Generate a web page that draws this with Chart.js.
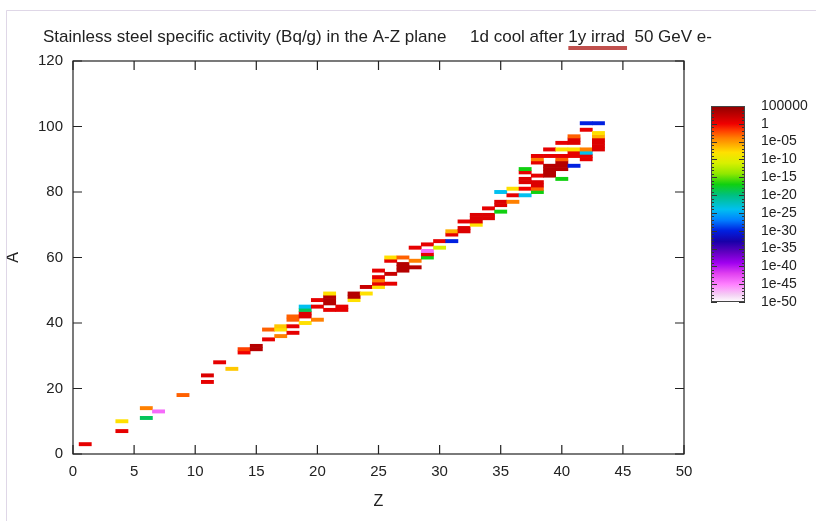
<!DOCTYPE html>
<html>
<head>
<meta charset="utf-8">
<script src="https://cdn.jsdelivr.net/npm/chart.js@4.4.0/dist/chart.umd.min.js"></script>
<style>
  html, body { margin: 0; padding: 0; background: #fff; }
  #wrap { position: relative; width: 816px; height: 521px; }
  #main { position: absolute; left: 0; top: 0; }
  #cbar { position: absolute; left: 700px; top: 76px; }
</style>
</head>
<body>
<div id="wrap">
  <canvas id="main" width="816" height="521"></canvas>
  <canvas id="cbar" width="116" height="256"></canvas>
</div>
<script>
// nuclides seen in the picture: Z, A and log10 of the activity (Bq/g)
const cellZ = [1, 4, 4, 6, 6, 7, 9, 11, 11, 12, 13, 14, 14, 15, 15, 16, 16, 17, 17, 17,
  18, 18, 18, 18, 19, 19, 19, 19, 19, 20, 20, 20, 21, 21, 21, 21, 21, 22, 22,
  23, 23, 23, 24, 24, 25, 25, 25, 25, 25, 26, 26, 26, 26, 27, 27, 27, 27,
  28, 28, 28, 29, 29, 29, 29, 30, 30, 31, 31, 31, 32, 32, 32, 33, 33, 33, 33,
  34, 34, 34, 35, 35, 35, 35, 36, 36, 36, 37, 37, 37, 37, 37, 37,
  38, 38, 38, 38, 38, 38, 38, 38, 39, 39, 39, 39, 39, 39,
  40, 40, 40, 40, 40, 40, 40, 40, 41, 41, 41, 41, 41, 41, 41,
  42, 42, 42, 42, 42, 42, 43, 43, 43, 43, 43, 43, 43];
const cellA = [3, 7, 10, 11, 14, 13, 18, 22, 24, 28, 26, 31, 32, 32, 33, 35, 38, 36, 38, 39,
  37, 39, 41, 42, 40, 42, 43, 44, 45, 41, 45, 47, 44, 46, 47, 48, 49, 44, 45,
  47, 48, 49, 49, 51, 51, 52, 53, 54, 56, 52, 55, 59, 60, 56, 57, 58, 60,
  57, 59, 63, 60, 61, 62, 64, 63, 65, 65, 67, 68, 68, 69, 71, 70, 71, 72, 73,
  72, 73, 75, 74, 76, 77, 80, 77, 79, 81, 79, 81, 83, 84, 86, 87,
  80, 81, 82, 83, 85, 89, 90, 91, 85, 86, 87, 88, 91, 93,
  84, 87, 88, 89, 90, 91, 93, 95, 88, 91, 92, 93, 95, 96, 97,
  90, 91, 92, 93, 99, 101, 93, 94, 95, 96, 97, 98, 101];
const cellLog = [0.5, 0.5, -8, -19, -4, -44, -3, 0.5, 1, 0.5, -7, 0, -2, 3, 3, 0.5, -3, -4, -8, -7,
  0.5, 0.5, -3, -3, -8, 1, 1, -19, -24, -4, 0.5, 0.5, 0.5, 3, 3, 3, -8, 0.5, 0.5,
  -8, 3, 3, -8, 2, -8, 0.5, -4, 0.5, 0.5, 0.5, 2, 0.5, -8, 3, 3, 3, -3,
  3, -4, 0.5, -17, 0.5, -44, 0.5, -11, 0.5, -30, 0.5, -6, 1, 1, 0.5, -8, 1, 1, 1,
  1, 1, 0.5, -17, 1, 1, -24, -4, 0.5, -8, -24, 0, 1, 1, 0.5, -17,
  -17, -3, 1, 1, 0.5, 0.5, -4, 0.5, 3, 3, 3, 3, 0.5, 0.5,
  -17, 3, 3, 3, -3, 0.5, -8, 0.5, -30, 0.5, 0.5, -8, 1, 1, -3,
  0.5, 0.5, -24, -4, 0.5, -30, 1, 1, 1, 1, -6, -8, -30];

// colour bar: log10 range and the labelled steps
const cbMin = -50;
const cbMax = 5;
const cbStep = 5;

// palette stops (log10 value -> colour)
const palLog = [5, 2, 0, -2, -4, -6, -8, -11, -14, -17, -20, -24, -27, -30, -33, -36, -39, -42, -45, -48, -50];
const palColor = ['#8e0000', '#c80000', '#f00000', '#ff4000', '#ff8000', '#ffb000', '#ffe000', '#d8f000',
  '#90e800', '#10d010', '#00c080', '#00c0f0', '#0080ff', '#0020e0', '#1800a8', '#6000c0', '#a000f0',
  '#e040f0', '#ff80ff', '#f4d0f4', '#ffffff'];

const titleText = 'Stainless steel specific activity (Bq/g) in the A-Z plane     1d cool after 1y irrad  50 GeV e-';
const markedText = '1y irrad';
const fontFam = '"Liberation Sans", Arial, Helvetica, sans-serif';

function hexRgb(h) {
  return [parseInt(h.substr(1, 2), 16), parseInt(h.substr(3, 2), 16), parseInt(h.substr(5, 2), 16)];
}

function activityColor(v) {
  if (v >= palLog[0]) return palColor[0];
  for (let i = 1; i < palLog.length; i++) {
    if (v >= palLog[i]) {
      const t = (palLog[i - 1] - v) / (palLog[i - 1] - palLog[i]);
      const a = hexRgb(palColor[i - 1]), b = hexRgb(palColor[i]);
      const c = a.map((x, k) => Math.round(x + (b[k] - x) * t));
      return 'rgb(' + c.join(',') + ')';
    }
  }
  return palColor[palColor.length - 1];
}

const cells = cellZ.map((z, i) => ({ x: z, y: [cellA[i] - 0.5, cellA[i] + 0.5] }));

// title, underline, box and inward ticks like gnuplot
const framePlugin = {
  id: 'frame',
  afterDraw(chart) {
    const ctx = chart.ctx;
    const a = chart.chartArea;
    const xs = chart.scales.x, ys = chart.scales.y;
    ctx.save();
    // faint page frame
    ctx.strokeStyle = 'rgba(215,205,225,0.8)';
    ctx.lineWidth = 1;
    ctx.beginPath();
    ctx.moveTo(6.5, 521); ctx.lineTo(6.5, 10.5); ctx.lineTo(816, 10.5);
    ctx.stroke();

    ctx.font = '17px ' + fontFam;
    ctx.fillStyle = '#222';
    ctx.textBaseline = 'middle';
    ctx.textAlign = 'left';
    const tx = 43, ty = 37;
    ctx.fillText(titleText, tx, ty);
    const idx = titleText.indexOf(markedText);
    const u0 = tx + ctx.measureText(titleText.slice(0, idx)).width;
    const u1 = u0 + ctx.measureText(markedText).width;
    ctx.fillStyle = '#c0504d';
    ctx.fillRect(u0, 46, u1 - u0 + 2, 4);

    ctx.strokeStyle = '#222';
    ctx.lineWidth = 1.2;
    ctx.strokeRect(a.left, a.top, a.right - a.left, a.bottom - a.top);
    ctx.beginPath();
    xs.ticks.forEach(t => {
      const x = xs.getPixelForValue(t.value);
      ctx.moveTo(x, a.bottom); ctx.lineTo(x, a.bottom - 9);
      ctx.moveTo(x, a.top); ctx.lineTo(x, a.top + 9);
    });
    ys.ticks.forEach(t => {
      const y = ys.getPixelForValue(t.value);
      ctx.moveTo(a.left, y); ctx.lineTo(a.left + 9, y);
      ctx.moveTo(a.right, y); ctx.lineTo(a.right - 9, y);
    });
    ctx.stroke();
    ctx.restore();
  }
};

new Chart(document.getElementById('main'), {
  type: 'bar',
  data: {
    datasets: [{
      data: cells,
      backgroundColor: ctx => activityColor(cellLog[ctx.dataIndex]),
      borderWidth: 0,
      barPercentage: 1,
      categoryPercentage: 1
    }]
  },
  options: {
    responsive: false,
    animation: false,
    layout: { padding: { left: 0, top: 61, right: 132, bottom: 0 } },
    plugins: {
      legend: { display: false },
      tooltip: { enabled: false },
      title: { display: false }
    },
    scales: {
      x: {
        type: 'linear',
        min: 0,
        max: 50,
        offset: false,
        grid: { display: false, drawTicks: false, offset: false },
        border: { display: false },
        ticks: { stepSize: 5, padding: 9, color: '#222', font: { family: fontFam, size: 15 } },
        title: { display: true, text: 'Z', color: '#222', font: { family: fontFam, size: 16 }, padding: { top: 0, bottom: 10 } },
        afterFit: s => { s.height = 67; }
      },
      y: {
        min: 0,
        max: 120,
        grid: { display: false, drawTicks: false },
        border: { display: false },
        ticks: { stepSize: 20, padding: 10, color: '#222', font: { family: fontFam, size: 15 } },
        title: { display: true, text: 'A', color: '#222', font: { family: fontFam, size: 16 }, padding: { top: 4, bottom: 0 } },
        afterFit: s => { s.width = 73; }
      }
    }
  },
  plugins: [framePlugin]
});

function cbGradient(chart) {
  const a = chart.chartArea;
  if (!a) return palColor[0];
  const ys = chart.scales.y;
  const top = ys.getPixelForValue(cbMax), bot = ys.getPixelForValue(cbMin);
  const g = chart.ctx.createLinearGradient(0, top, 0, bot);
  palLog.forEach((v, i) => g.addColorStop((cbMax - v) / (cbMax - cbMin), palColor[i]));
  return g;
}

function cbLabel(v) {
  if (v === 5) return '100000';
  if (v === 0) return '1';
  const e = -v;
  return '1e-' + (e < 10 ? '0' + e : e);
}

const cbTicks = {
  id: 'cbTicks',
  afterDatasetsDraw(chart) {
    const ctx = chart.ctx, a = chart.chartArea, ys = chart.scales.y;
    ctx.save();
    ctx.strokeStyle = '#333';
    ctx.lineWidth = 1;
    ctx.beginPath();
    for (let v = cbMin; v <= cbMax; v++) {
      const y = Math.round(ys.getPixelForValue(v)) + 0.5;
      const len = v % cbStep === 0 ? 6 : 3;
      ctx.moveTo(a.left, y); ctx.lineTo(a.left + len, y);
      ctx.moveTo(a.right, y); ctx.lineTo(a.right - len, y);
    }
    ctx.stroke();
    ctx.strokeStyle = '#444';
    ctx.strokeRect(a.left + 0.5, a.top + 0.5, a.right - a.left - 1, a.bottom - a.top - 1);
    ctx.restore();
  }
};

new Chart(document.getElementById('cbar'), {
  type: 'bar',
  data: {
    labels: [''],
    datasets: [{
      data: [[cbMin, cbMax]],
      backgroundColor: ctx => cbGradient(ctx.chart),
      borderWidth: 0,
      barPercentage: 1,
      categoryPercentage: 1
    }]
  },
  options: {
    responsive: false,
    animation: false,
    layout: { padding: { left: 11, top: 30, right: 0, bottom: 30 } },
    plugins: { legend: { display: false }, tooltip: { enabled: false } },
    scales: {
      x: { display: false },
      y: {
        position: 'right',
        min: cbMin,
        max: cbMax,
        grid: { display: false, drawTicks: false },
        border: { display: false },
        ticks: { stepSize: cbStep, autoSkip: false, padding: 16, color: '#222', font: { family: fontFam, size: 14 }, callback: v => cbLabel(v) },
        afterFit: s => { s.width = 71; }
      }
    }
  },
  plugins: [cbTicks]
});
</script>
</body>
</html>
